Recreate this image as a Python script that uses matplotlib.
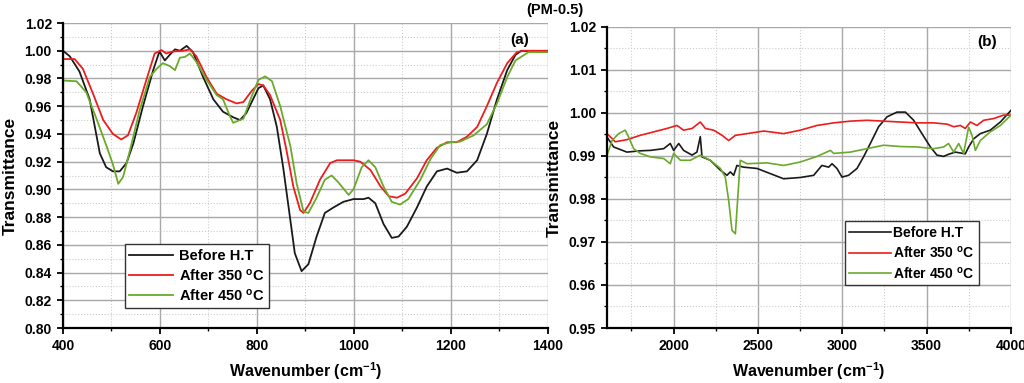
import matplotlib.pyplot as plt
from matplotlib.ticker import MultipleLocator

plt.rcParams["font.family"] = ["Liberation Sans", "DejaVu Sans"]
plt.rcParams["font.weight"] = "bold"
plt.rcParams["mathtext.fontset"] = "custom"
plt.rcParams["mathtext.rm"] = "Liberation Sans:bold"
plt.rcParams["mathtext.it"] = "Liberation Sans:bold"
plt.rcParams["mathtext.bf"] = "Liberation Sans:bold"

# ---- panel (a): 400-1400 cm-1 ----
wn_a_black = [400, 414, 434, 455, 476, 489, 503, 517, 531, 545, 565, 586, 599, 610, 620,
              631, 641, 655, 668, 689, 710, 730, 751, 765, 778, 792, 803, 813, 827, 841,
              854, 868, 878, 892, 906, 923, 940, 958, 978, 999, 1020, 1030, 1044, 1061,
              1078, 1092, 1109, 1130, 1150, 1171, 1192, 1212, 1233, 1254, 1274, 1295,
              1316, 1333, 1345, 1370, 1400]
tr_a_black = [1.000, 0.996, 0.985, 0.965, 0.926, 0.916, 0.913, 0.913, 0.919, 0.933, 0.960,
              0.986, 0.9995, 0.993, 0.997, 1.001, 1.000, 1.0035, 0.999, 0.981, 0.965, 0.956,
              0.952, 0.950, 0.955, 0.965, 0.973, 0.975, 0.965, 0.945, 0.916, 0.880, 0.854,
              0.841, 0.846, 0.866, 0.883, 0.887, 0.891, 0.893, 0.893, 0.894, 0.890, 0.875,
              0.865, 0.866, 0.873, 0.887, 0.902, 0.913, 0.915, 0.912, 0.913, 0.921, 0.940,
              0.965, 0.986, 0.997, 1.000, 0.9995, 0.9995]

wn_a_red = [400, 424, 441, 462, 483, 503, 520, 534, 551, 572, 589, 603, 613, 627, 648, 662,
            675, 696, 717, 737, 758, 772, 789, 803, 813, 827, 848, 861, 875, 889, 896, 909,
            930, 951, 965, 999, 1013, 1034, 1055, 1072, 1089, 1106, 1130, 1150, 1171, 1192,
            1212, 1233, 1254, 1274, 1295, 1316, 1336, 1350, 1400]
tr_a_red = [0.994, 0.994, 0.987, 0.969, 0.950, 0.940, 0.936, 0.939, 0.955, 0.979, 0.998,
            1.0005, 0.998, 0.9995, 1.000, 1.001, 0.996, 0.981, 0.969, 0.965, 0.962, 0.963,
            0.971, 0.976, 0.975, 0.968, 0.950, 0.928, 0.902, 0.885, 0.883, 0.890, 0.907,
            0.919, 0.921, 0.921, 0.920, 0.914, 0.902, 0.895, 0.894, 0.897, 0.908, 0.921,
            0.930, 0.934, 0.934, 0.938, 0.945, 0.960, 0.977, 0.991, 0.999, 1.000, 1.000]

wn_a_green = [400, 428, 448, 469, 489, 503, 514, 524, 538, 558, 579, 593, 606, 620, 631,
              641, 651, 662, 675, 696, 717, 730, 744, 751, 772, 789, 803, 817, 831, 848,
              869, 882, 896, 906, 923, 940, 954, 968, 989, 999, 1016, 1030, 1044, 1061,
              1078, 1095, 1112, 1137, 1158, 1178, 1199, 1219, 1247, 1274, 1295, 1316,
              1333, 1360, 1400]
tr_a_green = [0.9785, 0.978, 0.970, 0.951, 0.932, 0.918, 0.904, 0.909, 0.928, 0.957, 0.981,
              0.987, 0.991, 0.989, 0.986, 0.995, 0.9955, 0.998, 0.992, 0.979, 0.968, 0.965,
              0.953, 0.948, 0.951, 0.967, 0.979, 0.9815, 0.978, 0.960, 0.931, 0.904, 0.884,
              0.883, 0.894, 0.907, 0.910, 0.905, 0.896, 0.900, 0.916, 0.921, 0.916, 0.902,
              0.891, 0.889, 0.893, 0.907, 0.922, 0.932, 0.934, 0.9345, 0.939, 0.947, 0.962,
              0.981, 0.993, 0.999, 0.999]

# ---- panel (b): 1600-4000 cm-1 ----
wn_b_black = [1605, 1644, 1723, 1802, 1862, 1941, 1980, 2000, 2030, 2059, 2109, 2138, 2158,
              2168, 2217, 2277, 2316, 2336, 2356, 2375, 2415, 2494, 2573, 2652, 2751, 2830,
              2879, 2919, 2939, 2968, 2998, 3037, 3087, 3126, 3166, 3215, 3265, 3324, 3374,
              3423, 3472, 3522, 3561, 3601, 3630, 3670, 3729, 3749, 3779, 3818, 3877, 3937,
              4000]
tr_b_black = [0.9944, 0.9921, 0.9909, 0.9912, 0.9913, 0.9917, 0.9929, 0.9913, 0.9929, 0.9913,
              0.9902, 0.9909, 0.9945, 0.9898, 0.9890, 0.9867, 0.9855, 0.9863, 0.9855, 0.9878,
              0.9874, 0.9871, 0.9859, 0.9847, 0.9850, 0.9855, 0.9878, 0.9874, 0.9882, 0.9871,
              0.9851, 0.9855, 0.9871, 0.9898, 0.9929, 0.9968, 0.9991, 1.0002, 1.0002, 0.9983,
              0.9952, 0.9921, 0.9902, 0.9899, 0.9904, 0.9909, 0.9905, 0.9921, 0.9940, 0.9952,
              0.9960, 0.9979, 1.0006]

wn_b_red = [1605, 1654, 1723, 1802, 1881, 1960, 2020, 2059, 2109, 2158, 2188, 2237, 2287,
            2326, 2366, 2435, 2534, 2652, 2751, 2850, 2949, 3047, 3146, 3245, 3344, 3443,
            3542, 3621, 3660, 3700, 3729, 3759, 3798, 3838, 3897, 3956, 4000]
tr_b_red = [0.9952, 0.9933, 0.9938, 0.9948, 0.9956, 0.9964, 0.9971, 0.9960, 0.9964, 0.9979,
            0.9964, 0.9960, 0.9948, 0.9936, 0.9948, 0.9952, 0.9958, 0.9952, 0.9960, 0.9971,
            0.9977, 0.9981, 0.9983, 0.9981, 0.9979, 0.9977, 0.9977, 0.9974, 0.9968, 0.9971,
            0.9964, 0.9979, 0.9971, 0.9983, 0.9987, 0.9995, 0.9995]

wn_b_green = [1605, 1635, 1674, 1713, 1733, 1763, 1802, 1862, 1941, 1980, 2000, 2040, 2099,
              2158, 2217, 2277, 2306, 2326, 2346, 2366, 2379, 2395, 2435, 2553, 2652, 2751,
              2850, 2929, 2949, 3047, 3146, 3245, 3344, 3443, 3542, 3601, 3630, 3660, 3690,
              3719, 3749, 3769, 3789, 3818, 3877, 3937, 4000]
tr_b_green = [0.9902, 0.9936, 0.9952, 0.9960, 0.9944, 0.9917, 0.9906, 0.9898, 0.9894, 0.9882,
              0.9906, 0.9890, 0.9890, 0.9902, 0.9890, 0.9871, 0.9851, 0.9797, 0.9727, 0.9719,
              0.9797, 0.9890, 0.9882, 0.9884, 0.9878, 0.9886, 0.9899, 0.9913, 0.9906, 0.9909,
              0.9917, 0.9925, 0.9922, 0.9921, 0.9917, 0.9921, 0.9929, 0.9909, 0.9929, 0.9906,
              0.9967, 0.9948, 0.9913, 0.9936, 0.9956, 0.9971, 0.9995]

labels = ["Before H.T", r"After 350 $^{o}$C", r"After 450 $^{o}$C"]
colors = ["#1a1a1a", "#ee1c1c", "#6aaa2a"]

fig = plt.figure(figsize=(10.24, 3.83), dpi=100)
ax_a = fig.add_axes([0.0615, 0.1436, 0.4736, 0.7963])
ax_b = fig.add_axes([0.5928, 0.1436, 0.3945, 0.7860])


def style(ax):
    for s in ["top", "right"]:
        ax.spines[s].set_visible(False)
    for s in ["left", "bottom"]:
        ax.spines[s].set_linewidth(1.6)
    ax.grid(which="major", color="#a8a8a8", lw=1.0, zorder=0)
    ax.grid(which="minor", color="#cccccc", lw=0.8, ls=":", zorder=0)
    ax.tick_params(which="major", direction="out", length=4.5, width=1.3, labelsize=10)
    ax.tick_params(which="minor", direction="out", length=2.5, width=1.0)
    for t in ax.get_xticklabels() + ax.get_yticklabels():
        t.set_fontweight("bold")
    ax.set_axisbelow(True)


# panel (a)
for wn, tr, lab, c in zip([wn_a_black, wn_a_red, wn_a_green],
                          [tr_a_black, tr_a_red, tr_a_green], labels, colors):
    ax_a.plot(wn, tr, color=c, lw=1.3, label=lab)
ax_a.set_xlim(400, 1400)
ax_a.set_ylim(0.80, 1.02)
ax_a.xaxis.set_major_locator(MultipleLocator(200))
ax_a.xaxis.set_minor_locator(MultipleLocator(100))
ax_a.yaxis.set_major_locator(MultipleLocator(0.02))
ax_a.yaxis.set_minor_locator(MultipleLocator(0.01))
ax_a.yaxis.set_major_formatter(plt.FormatStrFormatter("%.2f"))
style(ax_a)
ax_a.set_xlabel(r"Wavenumber (cm$^{-1}$)", fontsize=11.5, fontweight="bold", labelpad=5)
ax_a.set_ylabel("Transmittance", fontsize=12.5, fontweight="bold", labelpad=5)
ax_a.text(0.942, 0.944, "(a)", transform=ax_a.transAxes, ha="center", va="center",
          fontsize=11, fontweight="bold")
leg = ax_a.legend(loc="upper left", bbox_to_anchor=(0.122, 0.362),
                  bbox_transform=fig.transFigure, fancybox=False, framealpha=1,
                  edgecolor="#333333", fontsize=10.5, handlelength=3.0,
                  borderpad=0.3, labelspacing=0.3, handletextpad=0.4,
                  borderaxespad=0)
leg.get_frame().set_linewidth(1.0)

# panel (b)
for wn, tr, lab, c in zip([wn_b_black, wn_b_red, wn_b_green],
                          [tr_b_black, tr_b_red, tr_b_green], labels, colors):
    ax_b.plot(wn, tr, color=c, lw=1.2, label=lab)
ax_b.set_xlim(1605, 4000)
ax_b.set_ylim(0.95, 1.02)
ax_b.xaxis.set_major_locator(MultipleLocator(500))
ax_b.xaxis.set_minor_locator(MultipleLocator(250))
ax_b.yaxis.set_major_locator(MultipleLocator(0.01))
ax_b.yaxis.set_minor_locator(MultipleLocator(0.005))
ax_b.yaxis.set_major_formatter(plt.FormatStrFormatter("%.2f"))
style(ax_b)
ax_b.set_xlabel(r"Wavenumber (cm$^{-1}$)", fontsize=11.5, fontweight="bold", labelpad=5)
ax_b.set_ylabel("Transmittance", fontsize=12.5, fontweight="bold", labelpad=5)
ax_b.text(0.94, 0.95, "(b)", transform=ax_b.transAxes, ha="center", va="center",
          fontsize=11, fontweight="bold")
leg = ax_b.legend(loc="upper left", bbox_to_anchor=(0.825, 0.422),
                  bbox_transform=fig.transFigure, fancybox=False, framealpha=1,
                  edgecolor="#333333", fontsize=10, handlelength=3.0,
                  borderpad=0.3, labelspacing=0.35, handletextpad=0.2,
                  borderaxespad=0)
leg.get_frame().set_linewidth(1.0)

fig.text(0.542, 0.975, "(PM-0.5)", ha="center", va="center", fontsize=10.5,
         fontweight="bold")

fig.savefig("out.png", dpi=100)
